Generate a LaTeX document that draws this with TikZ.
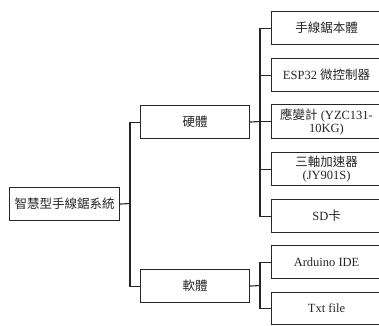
\documentclass[tikz,border=0pt]{standalone}
\usepackage{fontspec}
\setmainfont{Liberation Serif}
\newfontfamily\cjk{Noto Sans CJK TC}
\begin{document}
\begin{tikzpicture}[x=1pt,y=-1pt,
  box/.style={draw=black!85,line width=1.1pt,fill=white,rectangle,inner sep=0pt,anchor=north west},
  conn/.style={draw=black!85,line width=1.1pt},
  lbl/.style={font=\fontsize{12.5}{13}\selectfont,align=center,inner sep=0pt,text=black!85}]
\useasboundingbox (0,0) rectangle (379,325);
\clip (0,0) rectangle (379,325);
% root
\node[box,minimum width=110pt,minimum height=33pt] (root) at (9,187) {};
\node[lbl] (roott) at (root.center) {\cjk 智慧型手線鋸系統};
% level 1
\node[box,minimum width=109pt,minimum height=33pt] (hw) at (140,105) {};
\node[lbl] (hwt) at (hw.center) {\cjk 硬體};
\node[box,minimum width=109pt,minimum height=33pt] (sw) at (140,269) {};
\node[lbl] (swt) at (sw.center) {\cjk 軟體};
% level 2
\node[box,minimum width=110pt,minimum height=33pt] (c1) at (271,11) {};
\node[box,minimum width=110pt,minimum height=33pt] (c2) at (271,58) {};
\node[box,minimum width=110pt,minimum height=34pt] (c3) at (271,104) {};
\node[box,minimum width=110pt,minimum height=33pt] (c4) at (271,152) {};
\node[box,minimum width=110pt,minimum height=33pt] (c5) at (271,199) {};
\node[box,minimum width=110pt,minimum height=33pt] (c6) at (271,245) {};
\node[box,minimum width=110pt,minimum height=32pt] (c7) at (271,292) {};
\node[lbl] (t1) at (c1.center) {\cjk 手線鋸本體};
\node[lbl] (t2) at (c2.center) {ESP32 {\cjk 微控制器}};
\node[lbl] (t3) at (c3.center) {{\cjk 應變計} (YZC131-\\10KG)};
\node[lbl] (t4) at (c4.center) {{\cjk 三軸加速器}\\(JY901S)};
\node[lbl] (t5) at (c5.center) {SD{\cjk 卡}};
\node[lbl] (t6) at (c6.center) {Arduino IDE};
\node[lbl] (t7) at (c7.center) {Txt file};
% connectors
\coordinate (j0) at (130,203.5);
\coordinate (j1) at (260,121.5);
\coordinate (j2) at (260,285.5);
\draw[conn] (root.east) -- (j0);
\draw[conn] (j0) |- (hw.west);
\draw[conn] (j0) |- (sw.west);
\draw[conn] (hw.east) -- (j1);
\foreach \c in {c1,c2,c3,c4,c5} \draw[conn] (j1) |- (\c.west);
\draw[conn] (sw.east) -- (j2);
\foreach \c in {c6,c7} \draw[conn] (j2) |- (\c.west);
\end{tikzpicture}
\end{document}
